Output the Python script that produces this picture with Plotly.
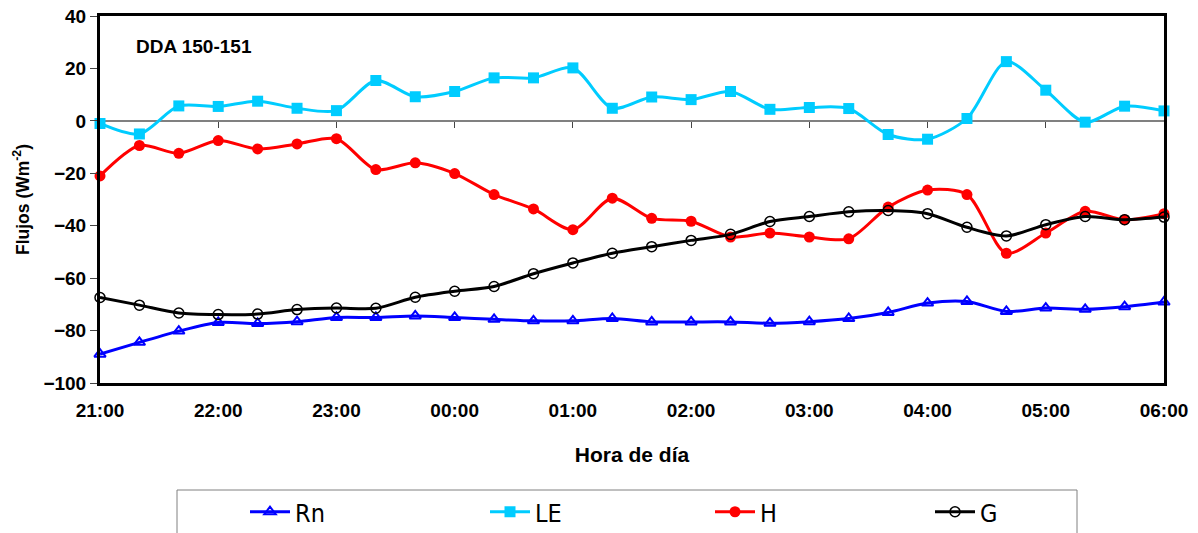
import plotly.graph_objects as go

times = ["21:00", "21:20", "21:40", "22:00", "22:20", "22:40", "23:00", "23:20", "23:40",
         "00:00", "00:20", "00:40", "01:00", "01:20", "01:40", "02:00", "02:20", "02:40",
         "03:00", "03:20", "03:40", "04:00", "04:20", "04:40", "05:00", "05:20", "05:40", "06:00"]
hour_labels = ["21:00", "22:00", "23:00", "00:00", "01:00", "02:00", "03:00", "04:00", "05:00", "06:00"]

rn = [-89.0, -84.5, -80.2, -76.9, -77.3, -76.6, -75.0, -75.0, -74.4, -75.0,
      -75.7, -76.3, -76.3, -75.4, -76.7, -76.7, -76.7, -77.2, -76.6, -75.4,
      -73.1, -69.5, -68.9, -72.7, -71.4, -71.9, -70.9, -69.1]
le = [-1.0, -5.0, 5.7, 5.5, 7.5, 4.8, 3.9, 15.4, 9.2, 11.2,
      16.4, 16.4, 20.2, 4.8, 9.1, 8.1, 11.2, 4.4, 5.1, 4.7,
      -5.2, -7.0, 0.9, 22.6, 11.7, -0.5, 5.6, 3.8]
h = [-21.0, -9.4, -12.4, -7.5, -10.7, -8.8, -6.8, -18.6, -16.0, -20.1,
     -28.1, -33.6, -41.5, -29.5, -37.2, -38.3, -44.3, -42.8, -44.3, -45.0,
     -32.9, -26.4, -28.1, -50.5, -42.8, -34.5, -37.7, -35.4]
g = [-67.4, -70.3, -73.3, -73.9, -73.7, -72.0, -71.4, -71.5, -67.3, -65.0,
     -63.2, -58.3, -54.2, -50.5, -48.0, -45.6, -43.3, -38.4, -36.5, -34.7,
     -34.2, -35.4, -40.6, -43.9, -39.6, -36.5, -37.7, -36.7]

FONT = "Liberation Sans, Arial, sans-serif"
NARROW = "Liberation Sans Narrow, Arial Narrow, DejaVu Sans Condensed, Liberation Sans, sans-serif"

fig = go.Figure()
series = [
    ("Rn", rn, "#0000FF", dict(symbol="triangle-up-open", size=10, color="#0000FF",
                                 line=dict(width=2, color="#0000FF")), "legend"),
    ("LE", le, "#00CCFF", dict(symbol="square", size=11, color="#00CCFF"), "legend2"),
    ("H", h, "#FF0000", dict(symbol="circle", size=11, color="#FF0000"), "legend3"),
    ("G", g, "#000000", dict(symbol="circle-open", size=10, color="#000000",
                               line=dict(width=1.5, color="#000000")), "legend4"),
]
for name, vals, col, mk, lg in series:
    fig.add_trace(go.Scatter(
        x=times, y=vals, name=name, mode="lines+markers", legend=lg,
        line=dict(color=col, width=3, shape="spline", smoothing=0.8),
        marker=mk, cliponaxis=False,
    ))

n = len(times)
PW, PH, L, B = 1064, 367, 100, 383


def legend_at(px_left):
    return dict(orientation="h", x=(px_left - L) / PW, xanchor="left",
                y=(B - 512) / PH, yanchor="middle", itemwidth=40,
                font=dict(family=NARROW, size=25, color="black"),
                bgcolor="rgba(0,0,0,0)")


fig.update_layout(
    width=1198, height=533,
    margin=dict(l=100, r=34, t=16, b=150, autoexpand=False),
    plot_bgcolor="white", paper_bgcolor="white",
    font=dict(family=FONT, size=19, color="black"),
    showlegend=True,
    legend=legend_at(245),
    legend2=legend_at(485),
    legend3=legend_at(710),
    legend4=legend_at(930),
    xaxis=dict(type="category", categoryorder="array", categoryarray=times,
               range=[0, n - 1], tickvals=hour_labels, ticktext=hour_labels,
               ticks="", showgrid=False, zeroline=False, automargin=False,
               ticklabelstandoff=8,
               showline=True, linecolor="black", linewidth=3, mirror=True,
               tickfont=dict(family=FONT, size=19, color="black", weight="bold"),
               title=dict(text="Hora de día", standoff=28,
                          font=dict(family=FONT, size=21, color="black", weight="bold"))),
    xaxis2=dict(overlaying="x", anchor="free", position=100 / 140, side="bottom",
                range=[0, n - 1], tickvals=[times.index(t) for t in hour_labels],
                showticklabels=False, ticks="outside", ticklen=6, tickwidth=1,
                tickcolor="#444444", showline=True, linecolor="#808080", linewidth=2,
                showgrid=False, zeroline=False, layer="below traces"),
    yaxis=dict(range=[-100, 40], tickvals=[40, 20, 0, -20, -40, -60, -80, -100],
               ticks="outside", ticklen=7, tickwidth=1, tickcolor="#444444",
               showgrid=False, zeroline=False, automargin=False,
               showline=True, linecolor="black", linewidth=3, mirror=True,
               tickfont=dict(family=FONT, size=19, color="black", weight="bold"),
               title=dict(text="Flujos (Wm<sup>-2</sup>)", standoff=10,
                          font=dict(family=FONT, size=17.5, color="black", weight="bold"))),
    annotations=[dict(text="<b>DDA 150-151</b>", xref="paper", yref="paper",
                      x=(134 - L) / PW, y=(B - 46) / PH, xanchor="left", yanchor="middle",
                      showarrow=False, font=dict(family=FONT, size=19, color="black"))],
    shapes=[dict(type="rect", xref="paper", yref="paper",
                 x0=(177 - L) / PW, x1=(1077 - L) / PW,
                 y0=(B - 490) / PH, y1=(B - 545) / PH,
                 line=dict(color="#808080", width=1), fillcolor="rgba(0,0,0,0)")],
)
# invisible trace on xaxis2 so the zero-line axis renders
fig.add_trace(go.Scatter(x=[0, n - 1], y=[None, None], xaxis="x2", showlegend=False,
                         hoverinfo="skip", mode="lines"))

fig.write_html("out.html")
